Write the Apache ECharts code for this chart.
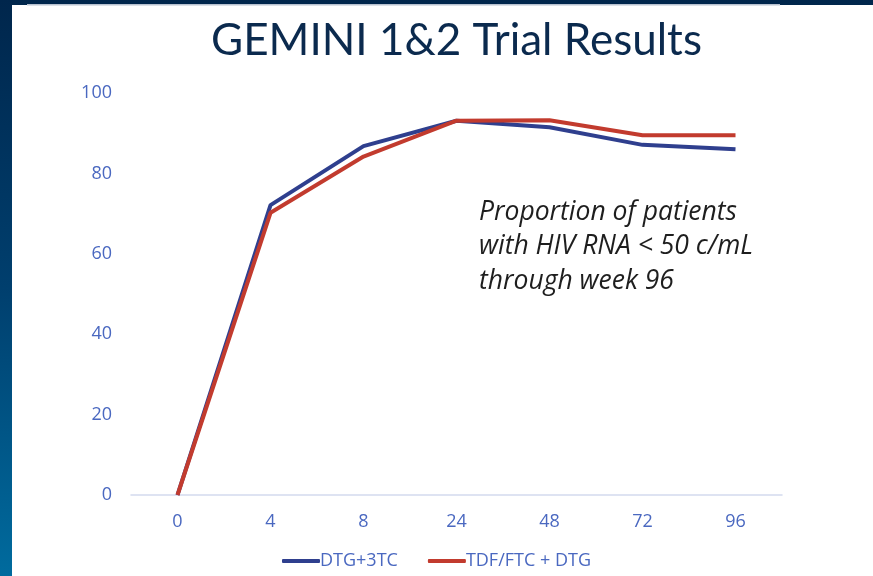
<!DOCTYPE html>
<html><head><meta charset="utf-8">
<script src="https://cdn.jsdelivr.net/npm/echarts@6/dist/echarts.min.js"></script>
<style>html,body{margin:0;padding:0;}#c{width:873px;height:576px;}</style>
</head><body><div id="c"></div>
<script>
var weeks = ['0','4','8','24','48','72','96'];
var dtg3tc = [0, 72.1, 86.8, 93.1, 91.5, 87.1, 86.0];
var tdfFtcDtg = [0, 70.2, 84.2, 93.1, 93.2, 89.5, 89.5];
var seriesNames = ['DTG+3TC', 'TDF/FTC + DTG'];
var yTicks = [0, 20, 40, 60, 80, 100];

var chart = echarts.init(document.getElementById('c'));
chart.setOption({
  backgroundColor: {type:'linear', x:0, y:0, x2:0, y2:1, colorStops:[{offset:0,color:'#00264c'},{offset:0.5,color:'#003f6e'},{offset:1,color:'#006b9e'}]},
  graphic: [
    {type:'rect', left:12, top:5, shape:{width:861, height:571}, style:{fill:'#ffffff'}, z:-1},
    {type:'rect', left:27, top:4, shape:{width:753, height:1.5}, style:{fill:'#b8c2d0'}, z:-1},
    {type:'text', left:211, top:19, style:{text:'GEMINI 1&2 Trial Results', font:'44px Lato', fill:'#0b2a4e'}},
    {type:'text', left:479, top:195, style:{text:'Proportion of patients\nwith HIV RNA < 50 c/mL\nthrough week 96', font:'italic 26.5px "Open Sans"', lineHeight:34.5, fill:'#1e1e1e'}}
  ],
  grid: {left:131, right:91, top:93, bottom:81},
  legend: {
    bottom: 1, left: 'center', itemGap: 30, itemWidth: 38, itemHeight: 4,
    icon: 'roundRect',
    textStyle: {color:'#4a68c0', fontSize:18, fontFamily:'"Open Sans"', padding:[0,0,0,-5]},
    data: seriesNames
  },
  xAxis: {
    type:'category', data: weeks, boundaryGap:true,
    axisLine:{lineStyle:{color:'#d3daee', width:1.5}},
    axisTick:{show:false},
    axisLabel:{color:'#4a68c0', fontSize:18, fontFamily:'"Open Sans"', margin:18}
  },
  yAxis: {
    type:'value', min:0, max:100, interval:20,
    axisLine:{show:false}, axisTick:{show:false}, splitLine:{show:false},
    axisLabel:{color:'#4a68c0', fontSize:18, fontFamily:'"Open Sans"', margin:19}
  },
  series: [
    {name:seriesNames[0], type:'line', data:dtg3tc, symbol:'none', lineStyle:{width:4, color:'#2f3f8e'}, itemStyle:{color:'#2f3f8e'}, z:2},
    {name:seriesNames[1], type:'line', data:tdfFtcDtg, symbol:'none', lineStyle:{width:4, color:'#c23b2e'}, itemStyle:{color:'#c23b2e'}, z:3}
  ]
});
</script></body></html>
